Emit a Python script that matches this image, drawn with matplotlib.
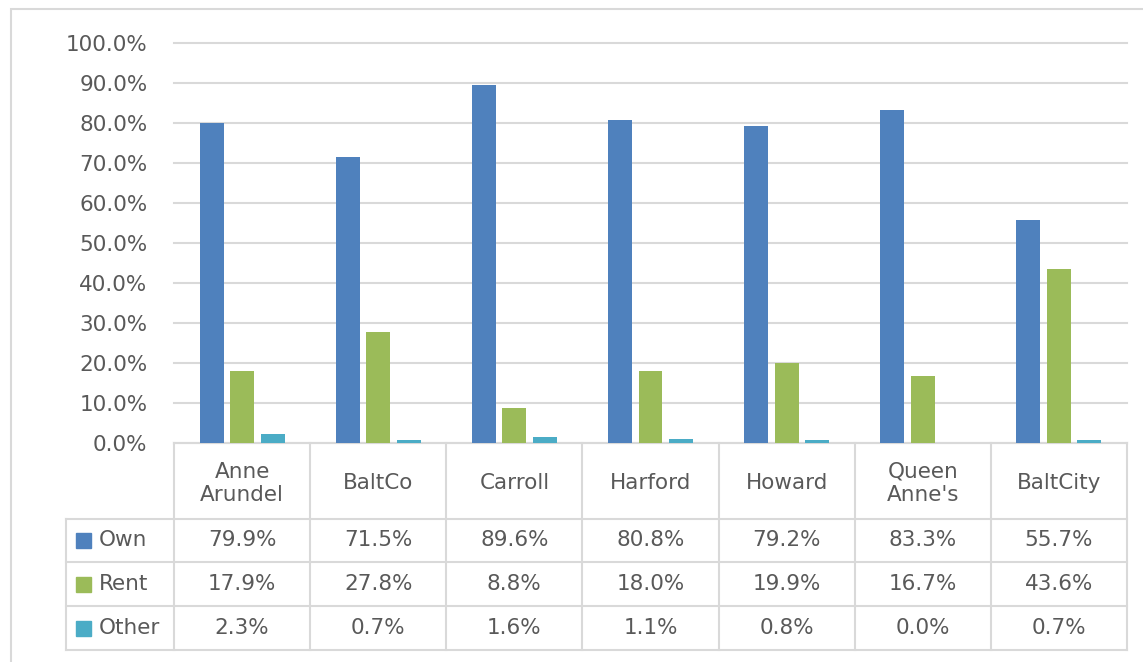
import matplotlib
matplotlib.use("Agg")
import matplotlib.pyplot as plt
from matplotlib.patches import Rectangle
import numpy as np

categories = ["Anne\nArundel", "BaltCo", "Carroll", "Harford", "Howard", "Queen\nAnne's", "BaltCity"]
series_names = ["Own", "Rent", "Other"]
own = [79.9, 71.5, 89.6, 80.8, 79.2, 83.3, 55.7]
rent = [17.9, 27.8, 8.8, 18.0, 19.9, 16.7, 43.6]
other = [2.3, 0.7, 1.6, 1.1, 0.8, 0.0, 0.7]
colors = ["#4F81BD", "#9BBB59", "#4BACC6"]
yticks = [0, 10, 20, 30, 40, 50, 60, 70, 80, 90, 100]

W, H = 1143, 662
fig = plt.figure(figsize=(W / 100, H / 100), dpi=100)
plt.rcParams['font.family'] = ['DejaVu Sans']
txt = "#595959"
grid = "#D9D9D9"
fs = 15.5

# outer chart border
fig.patches.append(Rectangle((11 / W, -0.01), 1.1, 1 - 9 / H + 0.01, transform=fig.transFigure,
                             fill=False, edgecolor=grid, lw=1.5))

ax = fig.add_axes([174 / W, 1 - 443 / H, (1127 - 174) / W, 400 / H])
ax.set_xlim(-0.5, len(categories) - 0.5)
ax.set_ylim(0, 100)
for s in ax.spines.values():
    s.set_visible(False)
ax.set_yticks(yticks)
ax.set_yticklabels([f"{v:.1f}%" for v in yticks], color=txt, fontsize=fs)
ax.tick_params(axis='y', length=0, pad=19)
ax.set_xticks([])
ax.yaxis.grid(True, color=grid, lw=1.5)
for gl in ax.get_ygridlines():
    gl.set_clip_on(False)
ax.set_axisbelow(True)

x = np.arange(len(categories))
bw = 0.176
step = 0.224
data = [own, rent, other]
for i, (vals, c) in enumerate(zip(data, colors)):
    ax.bar(x + (i - 1) * step, vals, width=bw, color=c, zorder=3)

# data table (x in data units, y in axes fraction)
tr = ax.get_xaxis_transform()
h_top = 0.0
h_bot = -(519 - 443) / 400
row_edges = [h_bot, -(562 - 443) / 400, -(606 - 443) / 400, -(650 - 443) / 400]
left_x = -0.5 - (174 - 66) / ((1127 - 174) / 7)
xr = len(categories) - 0.5
lkw = dict(color=grid, lw=1.5, transform=tr, clip_on=False)

# horizontal lines
ax.plot([-0.5, xr], [h_top, h_top], **lkw)
for y in row_edges:
    ax.plot([left_x, xr], [y, y], **lkw)
# vertical lines
for b in np.arange(-0.5, xr + 0.01, 1.0):
    ax.plot([b, b], [h_top, row_edges[-1]], **lkw)
ax.plot([left_x, left_x], [row_edges[0], row_edges[-1]], **lkw)

# header labels
for i, cat in enumerate(categories):
    ax.text(i, (h_top + h_bot) / 2 - 0.006, cat, transform=tr, ha='center', va='center',
            color=txt, fontsize=fs, linespacing=1.2, clip_on=False)

# rows
unit = (1127 - 174) / 7
for r, (name, vals, c) in enumerate(zip(series_names, data, colors)):
    yc = (row_edges[r] + row_edges[r + 1]) / 2
    sq_h = 15 / 400
    sq_w = 15 / unit
    sx = left_x + 10 / unit
    ax.add_patch(Rectangle((sx, yc - sq_h / 2), sq_w, sq_h, transform=tr,
                           color=c, clip_on=False))
    ax.text(sx + 23 / unit, yc, name, transform=tr, ha='left', va='center',
            color=txt, fontsize=fs, clip_on=False)
    for i, v in enumerate(vals):
        ax.text(i, yc, f"{v:.1f}%", transform=tr, ha='center', va='center',
                color=txt, fontsize=fs, clip_on=False)

fig.savefig("out.png", dpi=100)
